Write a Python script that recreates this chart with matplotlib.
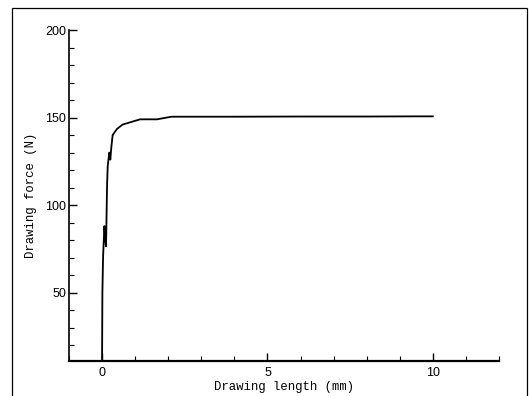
import matplotlib.pyplot as plt
from matplotlib.patches import Rectangle
from matplotlib.ticker import MultipleLocator

# drawing length (mm) / drawing force (N)
length = [0.0, 0.01, 0.03, 0.07, 0.10, 0.12, 0.15, 0.17, 0.20, 0.22, 0.25, 0.28,
          0.32, 0.45, 0.62, 0.85, 1.15, 1.66, 2.10, 4.0, 6.0, 8.0, 9.5, 10.0]
force = [11, 50, 70, 88, 80, 76.5, 110, 122, 127, 130, 126, 133,
         140, 143.5, 146, 147.3, 149, 149, 150.5, 150.5, 150.6, 150.6, 150.7, 150.7]

xticks = [0, 5, 10]
yticks = [50, 100, 150, 200]

fig = plt.figure(figsize=(5.29, 3.96), dpi=100)
ax = fig.add_axes([0.1304, 0.0884, 0.8129, 0.8358])

ax.plot(length, force, color='black', lw=1.3)

ax.set_xlim(-1, 12)
ax.set_ylim(11, 200)
ax.set_xticks(xticks)
ax.set_yticks(yticks)
ax.xaxis.set_minor_locator(MultipleLocator(1))
ax.yaxis.set_minor_locator(MultipleLocator(10))

for s in ['top', 'right']:
    ax.spines[s].set_visible(False)
ax.spines['bottom'].set_linewidth(1.6)
ax.spines['left'].set_linewidth(1.2)

ax.tick_params(which='major', direction='in', length=6, width=1.0,
               labelsize=9, pad=4)
ax.tick_params(which='minor', direction='in', length=3.5, width=0.8)
ax.tick_params(axis='y', which='major', pad=2)
for lab in ax.get_xticklabels() + ax.get_yticklabels():
    lab.set_family('Liberation Sans')

ax.set_xlabel('Drawing length (mm)', family='Liberation Mono', fontsize=8.8, labelpad=2)
ax.set_ylabel('Drawing force (N)', family='Liberation Mono', fontsize=8.8, labelpad=6)

# outer frame around the figure (bottom edge runs off the page)
fig.patches.append(Rectangle((0.0227, -0.1), 0.973, 1.08, transform=fig.transFigure,
                             fill=False, lw=0.9, ec='black', clip_on=False))

fig.savefig('out.png', dpi=100)
